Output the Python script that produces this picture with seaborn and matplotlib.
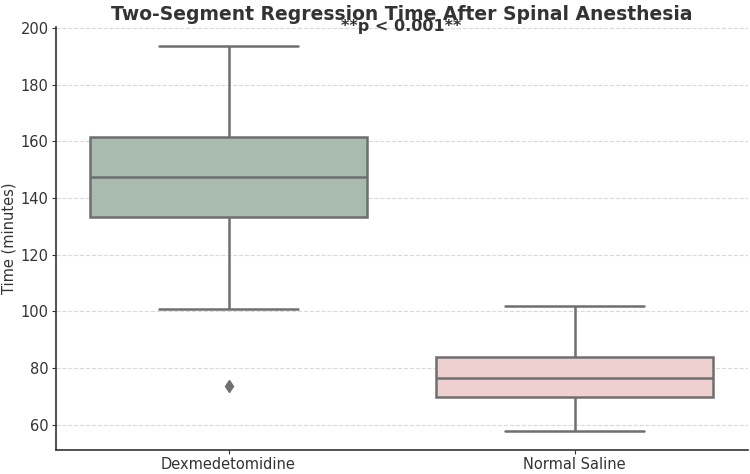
import numpy as np
import pandas as pd
import matplotlib
matplotlib.use("Agg")
import matplotlib.pyplot as plt
import seaborn as sns

# values chosen so the box stats match the figure (n=9 per group)
dexmed_times = [73.5, 100.9, 133.4, 140.0, 147.3, 154.0, 161.5, 176.0, 193.8]
saline_times = [57.7, 63.5, 69.8, 73.0, 76.6, 80.0, 84.0, 92.0, 101.7]
groups = ["Dexmedetomidine", "Normal Saline"]
box_colors = ["#a6bdae", "#f3cbcb"]

df = pd.DataFrame({
    "Group": [groups[0]] * len(dexmed_times) + [groups[1]] * len(saline_times),
    "Time": dexmed_times + saline_times,
})

sns.set_style("ticks")
plt.rcParams["font.family"] = ["DejaVu Sans"]

fig, ax = plt.subplots(figsize=(7.5, 4.74), dpi=100)
fig.subplots_adjust(left=0.074, right=0.997, top=0.944, bottom=0.05)

sns.boxplot(data=df, x="Group", y="Time", hue="Group", palette=box_colors,
            legend=False, width=0.8, linewidth=1.8, linecolor="#6f6f6f",
            flierprops=dict(marker="d", markerfacecolor="#6f6f6f",
                            markeredgecolor="#6f6f6f", markersize=6),
            ax=ax)

ax.yaxis.grid(True, linestyle="--", color="#d9d9d9", linewidth=0.8)
ax.set_axisbelow(True)
sns.despine(ax=ax)
for s in ["left", "bottom"]:
    ax.spines[s].set_color("#333333")
    ax.spines[s].set_linewidth(1.2)

ax.set_xlabel("")
ax.set_ylabel("Time (minutes)", fontsize=10.5, color="#333333", labelpad=3)
ax.tick_params(labelsize=10.5, colors="#333333", length=3, pad=2)
ax.set_yticks([60, 80, 100, 120, 140, 160, 180, 200])
ax.set_title("Two-Segment Regression Time After Spinal Anesthesia",
             fontsize=13.5, fontweight="bold", color="#333333", pad=5)
ax.text(0.5, 1.0, "**p < 0.001**", transform=ax.transAxes, ha="center",
        va="center", fontsize=11.5, fontweight="bold", color="#333333")

fig.savefig("out.png", dpi=100)
